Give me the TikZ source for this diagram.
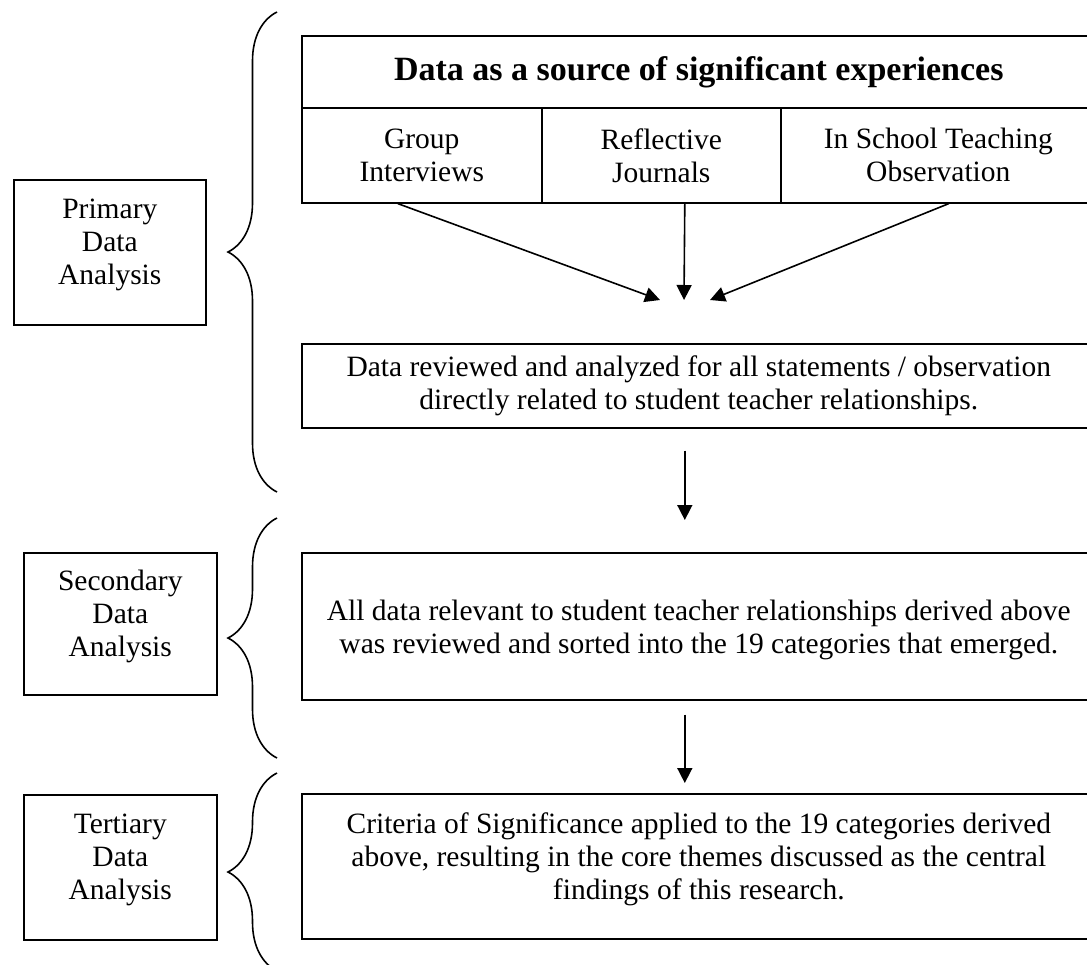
\documentclass[tikz,border=0pt]{standalone}
\usepackage{fontspec}
\setmainfont{Liberation Serif}
\usetikzlibrary{positioning,arrows.meta,decorations.pathreplacing}

\begin{document}
\begin{tikzpicture}[x=1pt,y=-1pt,
  cell/.style={draw,line width=1.6pt,inner sep=0pt,anchor=north west,align=center,
    font=\fontsize{29.5}{33}\selectfont},
  lift/.style={text depth=21pt},
  arr/.style={line width=1.6pt,-{Triangle[length=15pt,width=15pt]}},
  brc/.style={line width=1.6pt,decorate,decoration={brace,amplitude=49pt}}]
  \useasboundingbox (0,0) rectangle (1087,964);
  % left stage labels
  \node[cell,lift,minimum width=192pt,minimum height=145pt] (prim) at (13,179) {Primary\\Data\\Analysis};
  \node[cell,lift,minimum width=193pt,minimum height=142pt] (sec) at (23,552) {Secondary\\Data\\Analysis};
  \node[cell,lift,minimum width=193pt,minimum height=145pt] (ter) at (23,794) {Tertiary\\Data\\Analysis};
  % braces
  \draw[brc] (277,492) -- (277,12);
  \draw[brc] (277,758) -- (277,518);
  \draw[brc] (277,971) -- (277,773);
  % data sources table
  \node[cell,minimum width=794pt,minimum height=72pt,font=\fontsize{34}{38}\selectfont\bfseries] (src) at (301,35) {Data as a source of significant experiences};
  \node[cell,minimum width=240pt,minimum height=95pt] (grp) at (301,107) {Group\\Interviews};
  \node[cell,minimum width=239pt,minimum height=95pt] (jrn) at (541,107) {Reflective\\Journals};
  \node[cell,minimum width=315pt,minimum height=95pt] (obs) at (780,107) {In School Teaching\\Observation};
  % analysis steps
  \node[cell,minimum width=794pt,minimum height=84pt] (rev) at (301,343) {Data reviewed and analyzed for all statements / observation\\directly related to student teacher relationships.};
  \node[cell,text depth=0pt,minimum width=794pt,minimum height=147pt] (srt) at (301,552) {All data relevant to student teacher relationships derived above\\was reviewed and sorted into the 19 categories that emerged.};
  \node[cell,lift,minimum width=794pt,minimum height=145pt] (crit) at (301,793) {Criteria of Significance applied to the 19 categories derived\\above, resulting in the core themes discussed as the central\\findings of this research.};
  % arrows
  \coordinate (tipL) at (660,300);
  \coordinate (tipM) at (684,300);
  \coordinate (tipR) at (710,300);
  \draw[arr] ([xshift=-24pt]grp.south) -- (tipL);
  \draw[arr] ([xshift=23.5pt]jrn.south) -- (tipM);
  \draw[arr] ([xshift=10.5pt]obs.south) -- (tipR);
  \draw[arr] ([xshift=-14pt,yshift=-22pt]rev.south) -- ([xshift=-14pt,yshift=32pt]srt.north);
  \draw[arr] ([xshift=-14pt,yshift=-14pt]srt.south) -- ([xshift=-14pt,yshift=10pt]crit.north);
\end{tikzpicture}
\end{document}
